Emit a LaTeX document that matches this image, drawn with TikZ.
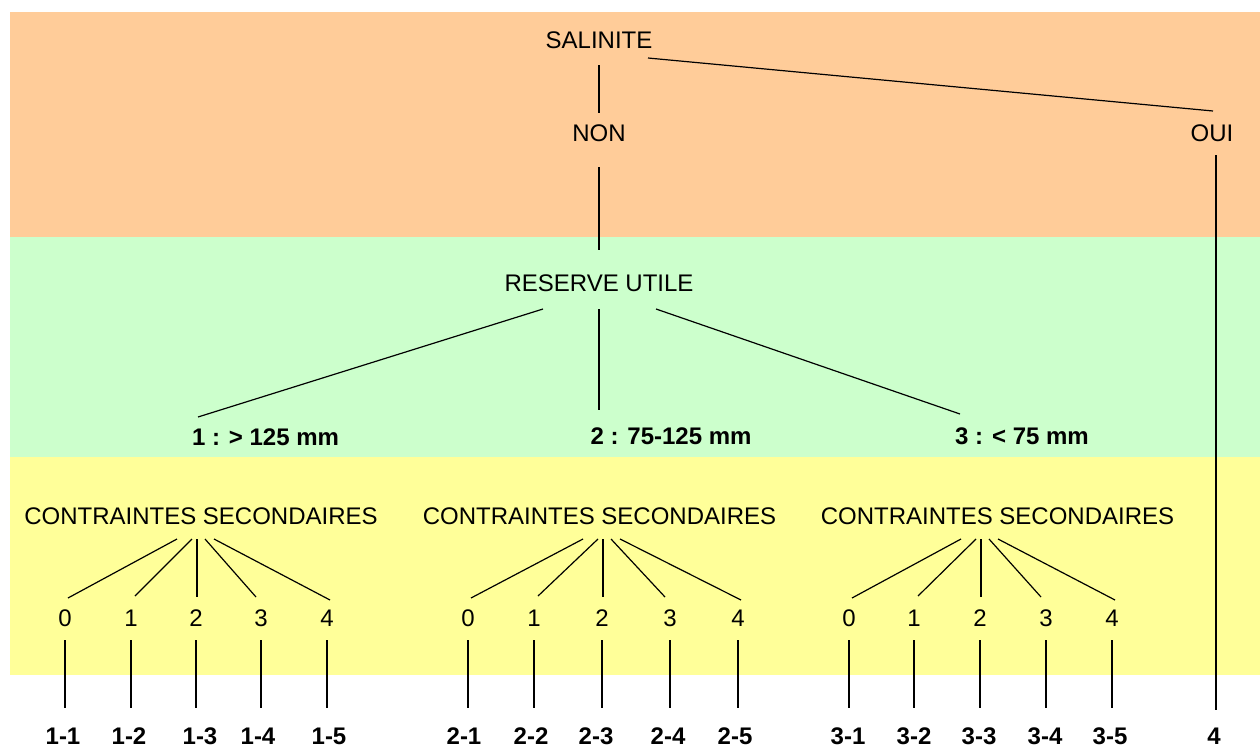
\documentclass[tikz,border=0pt]{standalone}
\usepackage{fontspec}
\setmainfont{Liberation Sans}
\usetikzlibrary{calc}
\definecolor{bandorange}{HTML}{FFCC99}
\definecolor{bandgreen}{HTML}{CCFFCC}
\definecolor{bandyellow}{HTML}{FFFF99}
\begin{document}
\begin{tikzpicture}[x=1pt,y=-1pt,
  lbl/.style={inner sep=0pt, text height=17pt, text depth=0pt, font=\fontsize{24}{28}\selectfont},
  blbl/.style={inner sep=0pt, text height=17pt, text depth=0pt, font=\fontsize{24}{28}\selectfont\bfseries},
  conn/.style={line width=1.2pt, black}]
\useasboundingbox (0,0) rectangle (1260,747);
\fill[bandorange] (10,12) rectangle (1260,237);
\fill[bandgreen] (10,237) rectangle (1260,457);
\fill[bandyellow] (10,457) rectangle (1260,675);

\node[lbl] (sal) at (599,40) {SALINITE};
\node[lbl] (non) at (599,133) {NON};
\node[lbl] (oui) at (1212,133) {OUI};
\node[lbl] (ru) at (599,283) {RESERVE UTILE};
\node[blbl] (r1) at (265.5,437) {1 : > 125 mm};
\node[blbl] (r2) at (671,436) {2 : 75-125 mm};
\node[blbl] (r3) at (1022,436) {3 : < 75 mm};
\node[blbl] (f4) at (1214,736) {4};

\draw[conn] ($(sal.center)+(0,25)$) -- ($(non.center)+(0,-20)$);
\draw[conn] ($(sal.center)+(49,18)$) -- ($(oui.center)+(1,-22)$);
\draw[conn] ($(oui.center)+(4,22)$) -- ($(f4.center)+(2,-26)$);
\draw[conn] ($(non.center)+(0,34)$) -- ($(ru.center)+(0,-33)$);
\draw[conn] ($(ru.center)+(-56,26)$) -- ($(r1.center)+(-67.5,-20)$);
\draw[conn] ($(ru.center)+(0,26)$) -- ($(r2.center)+(-72,-26)$);
\draw[conn] ($(ru.center)+(57,26)$) -- ($(r3.center)+(-62,-22)$);

\foreach \g/\cx/\xa/\xb/\xc/\xd/\xe/\la/\lb/\lc/\ld/\le in
  {1/201/65/131/196/261/327/63/129/200/258/329,
   2/599.5/468/534/602/670/738/464/531/596/668/735,
   3/997.5/849/914/980/1046/1112/848/914/979/1045/1110}{
  \node[lbl] (cs\g) at (\cx,516) {CONTRAINTES SECONDAIRES};
  \node[lbl] (d\g-0) at (\xa,618) {0};
  \node[lbl] (d\g-1) at (\xb,618) {1};
  \node[lbl] (d\g-2) at (\xc,618) {2};
  \node[lbl] (d\g-3) at (\xd,618) {3};
  \node[lbl] (d\g-4) at (\xe,618) {4};
  \node[blbl] (l\g-0) at (\la,736) {\g-1};
  \node[blbl] (l\g-1) at (\lb,736) {\g-2};
  \node[blbl] (l\g-2) at (\lc,736) {\g-3};
  \node[blbl] (l\g-3) at (\ld,736) {\g-4};
  \node[blbl] (l\g-4) at (\le,736) {\g-5};
  \foreach \i/\tx/\bx/\by in {0/-19/3/-20, 1/-4/4/-22, 2/1/1/-21, 3/9/-5/-21, 4/18/3/-18}{
    \draw[conn] ($(cs\g.center -| d\g-2.center)+(\tx,23)$) -- ($(d\g-\i.center)+(\bx,\by)$);
    \draw[conn] ($(d\g-\i.center)+(0,22)$) -- ($(d\g-\i.center |- l\g-\i.center)+(0,-28)$);
  }
}
\end{tikzpicture}
\end{document}
